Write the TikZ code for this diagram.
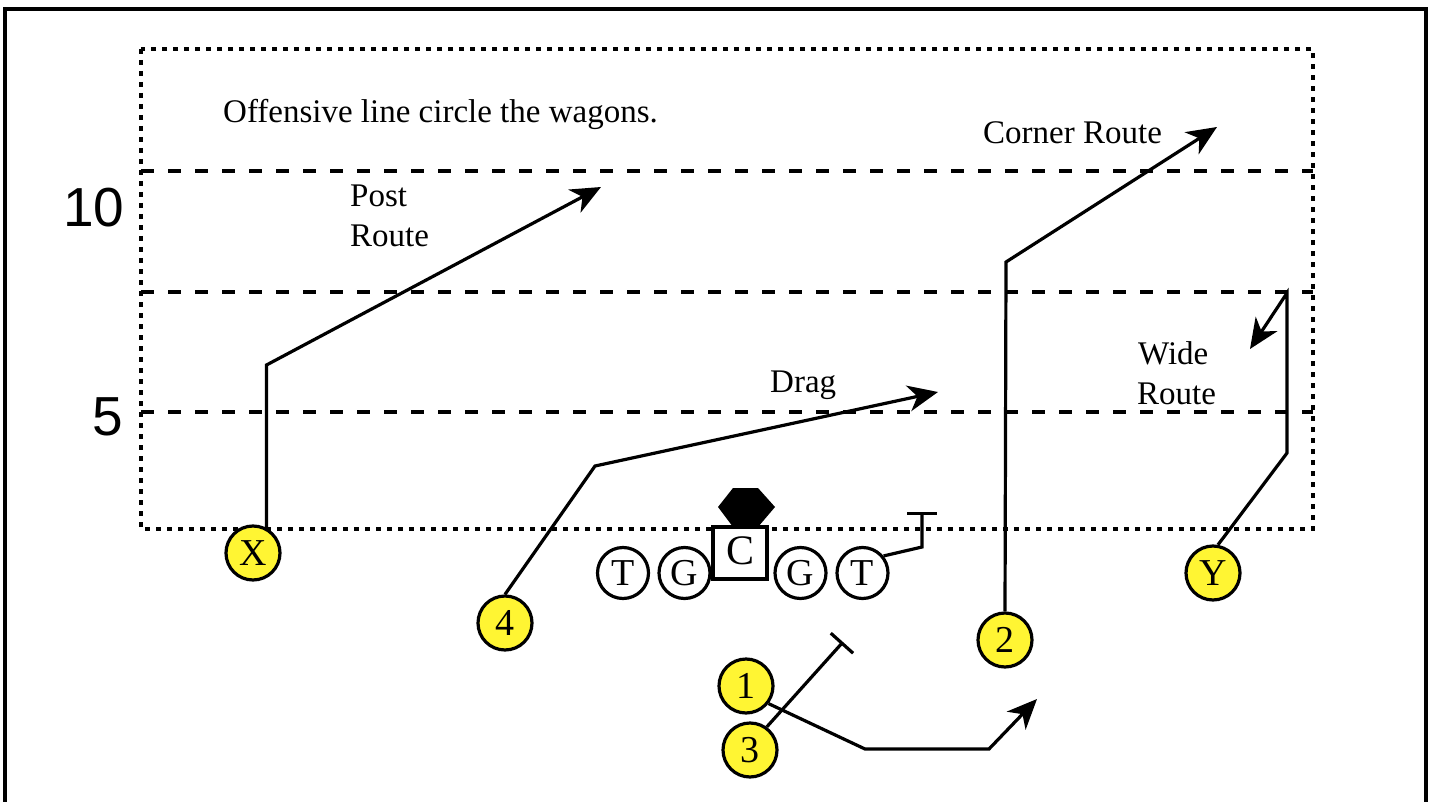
\documentclass[tikz,border=0pt]{standalone}
\usepackage{fontspec}
\setmainfont{Liberation Serif}
\newfontfamily\numfont{Liberation Sans}
\usetikzlibrary{arrows.meta}

\tikzset{
  player/.style={circle, draw, line width=3.2pt, fill=yellow!80!white,
    minimum size=54pt, inner sep=0pt, font=\fontsize{38}{38}\selectfont},
  lineman/.style={circle, draw, line width=3.2pt, fill=white,
    minimum size=51pt, inner sep=0pt, font=\fontsize{38}{38}\selectfont},
  route/.style={line width=3.2pt, line join=miter,
    -{Stealth[length=30pt, width=26pt, inset=9pt]}},
  blockline/.style={line width=3.2pt, -{Bar[width=30pt, line width=3.2pt]}},
  yardline/.style={line width=3.2pt, dash pattern=on 13pt off 14pt},
  fieldline/.style={line width=3.2pt, dash pattern=on 5pt off 6pt},
  lbl/.style={font=\fontsize{33}{38}\selectfont, inner sep=0pt, anchor=base west},
  yardnum/.style={font=\numfont\fontsize{55}{55}\selectfont, inner sep=0pt, anchor=base west}
}

\begin{document}
\begin{tikzpicture}[x=1pt, y=-1pt]
\useasboundingbox (0,0) rectangle (1431,802);

% Cornice
\draw[line width=3.5pt] (5,802) -- (5,9) -- (1426,9) -- (1426,802);

% Campo e linee delle iarde
\draw[fieldline] (141,49) rectangle (1313,529);
\draw[yardline] (141,171) -- (1313,171);
\draw[yardline] (141,292) -- (1313,292);
\draw[yardline] (141,412) -- (1313,412);

\node[yardnum] (ten) at (63,227) {10};
\node[yardnum] (five) at (92,435) {5};

% Testi
\node[lbl] (note) at (223,123) {Offensive line circle the wagons.};
\node[lbl] (post1) at (350,207) {Post};
\node[lbl] (post2) at (350,247) {Route};
\node[lbl] (corner) at (983,144) {Corner Route};
\node[lbl] (drag) at (770,392) {Drag};
\node[lbl] (wide1) at (1138,364) {Wide};
\node[lbl] (wide2) at (1137,404) {Route};

% Difensore
\fill (733,488) -- (758,488) -- (775,507) -- (758,527) -- (733,527) -- (718,507) -- cycle;

% Linea offensiva
\node[lineman] (LT) at (623,573) {T};
\node[lineman] (LG) at (684.5,573) {G};
\node[draw, fill=white, line width=3.2pt, minimum width=54pt, minimum height=52pt,
  inner sep=0pt, font=\fontsize{42}{42}\selectfont] (C) at (740,553)
  {\raisebox{4pt}{C}};
\node[lineman] (RG) at (800.5,573) {G};
\node[lineman] (RT) at (862.5,573) {T};

% Giocatori
\node[player] (X) at (253,553) {X};
\node[player] (Y) at (1213,573) {Y};
\node[player] (R4) at (505,623) {4};
\node[player] (R2) at (1005,640) {2};
\node[player] (R1) at (746,686) {1};
\node[player] (R3) at (750,750) {3};

% Punti delle tracce
\coordinate (Xturn) at (266.5,365);
\coordinate (Xend) at (601,187);
\coordinate (Dturn) at (595,466);
\coordinate (Dend) at (938,392);
\coordinate (Cturn) at (1006,262);
\coordinate (Cend) at (1217,127);
\coordinate (Wlow) at (1287,453);
\coordinate (Whigh) at (1287,293);
\coordinate (Wend) at (1250,349);
\coordinate (Sa) at (865,749);
\coordinate (Sb) at (989,749);
\coordinate (Send) at (1037,699);
\coordinate (Tturn) at (922,547);
\coordinate (Tend) at (922,512);
\coordinate (Bend) at (843,642);

% Tracce
\draw[route] (X.62) -- (Xturn) -- (Xend);
\draw[route] (R4.north) -- (Dturn) -- (Dend);
\draw[route] (R2.north) -- (Cturn) -- (Cend);
\draw[route] (Y.80) -- (Wlow) -- (Whigh) -- (Wend);
\draw[route] (R1.-38) -- (Sa) -- (Sb) -- (Send);

% Blocchi
\draw[blockline] (RT.39) -- (Tturn) -- (Tend);
\draw[blockline] (R3.54) -- (Bend);

\end{tikzpicture}
\end{document}
